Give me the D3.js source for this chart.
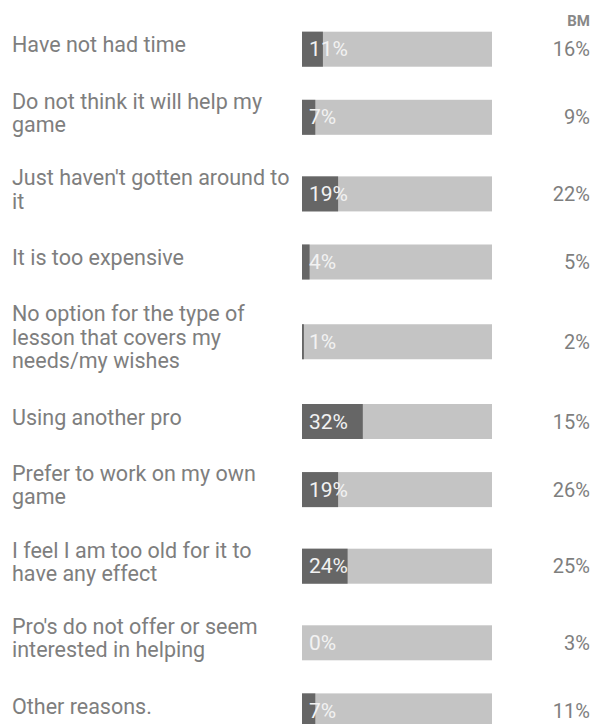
<!DOCTYPE html>
<html>
<head>
<meta charset="utf-8">
<script src="https://cdn.jsdelivr.net/npm/d3@7"></script>
<style>
  body { margin: 0; background: #fff; }
  svg { font-family: Roboto, "Noto Sans", sans-serif; }
</style>
</head>
<body>
<div id="vis"></div>
<script>
// chart size
const WIDTH = 595;
const HEIGHT = 724;

// data
const categories = [
  "Have not had time",
  "Do not think it will help my game",
  "Just haven't gotten around to it",
  "It is too expensive",
  "No option for the type of lesson that covers my needs/my wishes",
  "Using another pro",
  "Prefer to work on my own game",
  "I feel I am too old for it to have any effect",
  "Pro's do not offer or seem interested in helping",
  "Other reasons."
];
const values = [11, 7, 19, 4, 1, 32, 19, 24, 0, 7];
const bmValues = [16, 9, 22, 5, 2, 15, 26, 25, 3, 11];
const bmTitle = "BM";

// layout
const LABEL_X = 12;
const LABEL_MAX = 278;
const LABEL_FONT = 21.5;
const BAR_X0 = 302, BAR_X1 = 492;
const BAR_H = 35;
const LINE_H = 23.3;
const ROW_PAD = 5.4;
const GAP = 24.6;
const FIRST_CENTER = 49.2;
const VALUE_X = 590;

const svg = d3.select("#vis")
  .append("svg")
    .attr("width", WIDTH)
    .attr("height", HEIGHT);

// x scale for the bars
const x = d3.scaleLinear()
  .domain([0, 100])
  .range([BAR_X0, BAR_X1]);

// wrap labels into lines using a measuring text
const measure = svg.append("text")
  .attr("font-size", LABEL_FONT)
  .attr("visibility", "hidden");

function wrap(str) {
  const words = str.split(" ");
  const lines = [];
  let line = [];
  words.forEach(w => {
    line.push(w);
    measure.text(line.join(" "));
    if (measure.node().getComputedTextLength() > LABEL_MAX && line.length > 1) {
      line.pop();
      lines.push(line.join(" "));
      line = [w];
    }
  });
  lines.push(line.join(" "));
  return lines;
}

const labelLines = categories.map(wrap);
measure.remove();

// row centers follow the height of each label block
const rowH = labelLines.map(l => Math.max(BAR_H, l.length * LINE_H + ROW_PAD));
const centers = [];
rowH.forEach((h, i) => {
  if (i === 0) centers.push(FIRST_CENTER);
  else centers.push(centers[i - 1] + (rowH[i - 1] + h) / 2 + GAP);
});

const y = d3.scaleOrdinal()
  .domain(categories)
  .range(centers);

const data = categories.map((c, i) => ({
  cat: c, lines: labelLines[i], value: values[i], bm: bmValues[i]
}));

// header
svg.append("text")
  .attr("x", VALUE_X)
  .attr("y", 26)
  .attr("text-anchor", "end")
  .attr("font-size", 15)
  .attr("font-weight", "bold")
  .attr("fill", "#888")
  .text(bmTitle);

const rows = svg.selectAll("g.row")
  .data(data)
  .enter()
  .append("g")
    .attr("class", "row");

// category labels
rows.append("text")
  .attr("font-size", LABEL_FONT)
  .attr("fill", "#7e7e7e")
  .each(function(d) {
    const t = d3.select(this);
    const n = d.lines.length;
    d.lines.forEach((l, k) => {
      t.append("tspan")
        .attr("x", LABEL_X)
        .attr("y", y(d.cat) + 3 + (k - (n - 1) / 2) * LINE_H)
        .text(l);
    });
  });

// background bar
rows.append("rect")
  .attr("x", x(0))
  .attr("y", d => y(d.cat) - BAR_H / 2)
  .attr("width", x(100) - x(0))
  .attr("height", BAR_H)
  .attr("fill", "#c4c4c4");

// value bar
rows.append("rect")
  .attr("x", x(0))
  .attr("y", d => y(d.cat) - BAR_H / 2)
  .attr("width", d => x(d.value) - x(0))
  .attr("height", BAR_H)
  .attr("fill", "#666");

// value inside bar
rows.append("text")
  .attr("x", x(0) + 7)
  .attr("y", d => y(d.cat) + 7)
  .attr("font-size", 21)
  .attr("fill", "#f2f2f2")
  .text(d => d.value + "%");

// BM value on the right
rows.append("text")
  .attr("x", VALUE_X)
  .attr("y", d => y(d.cat) + 7)
  .attr("text-anchor", "end")
  .attr("font-size", 20)
  .attr("fill", "#7e7e7e")
  .text(d => d.bm + "%");
</script>
</body>
</html>
